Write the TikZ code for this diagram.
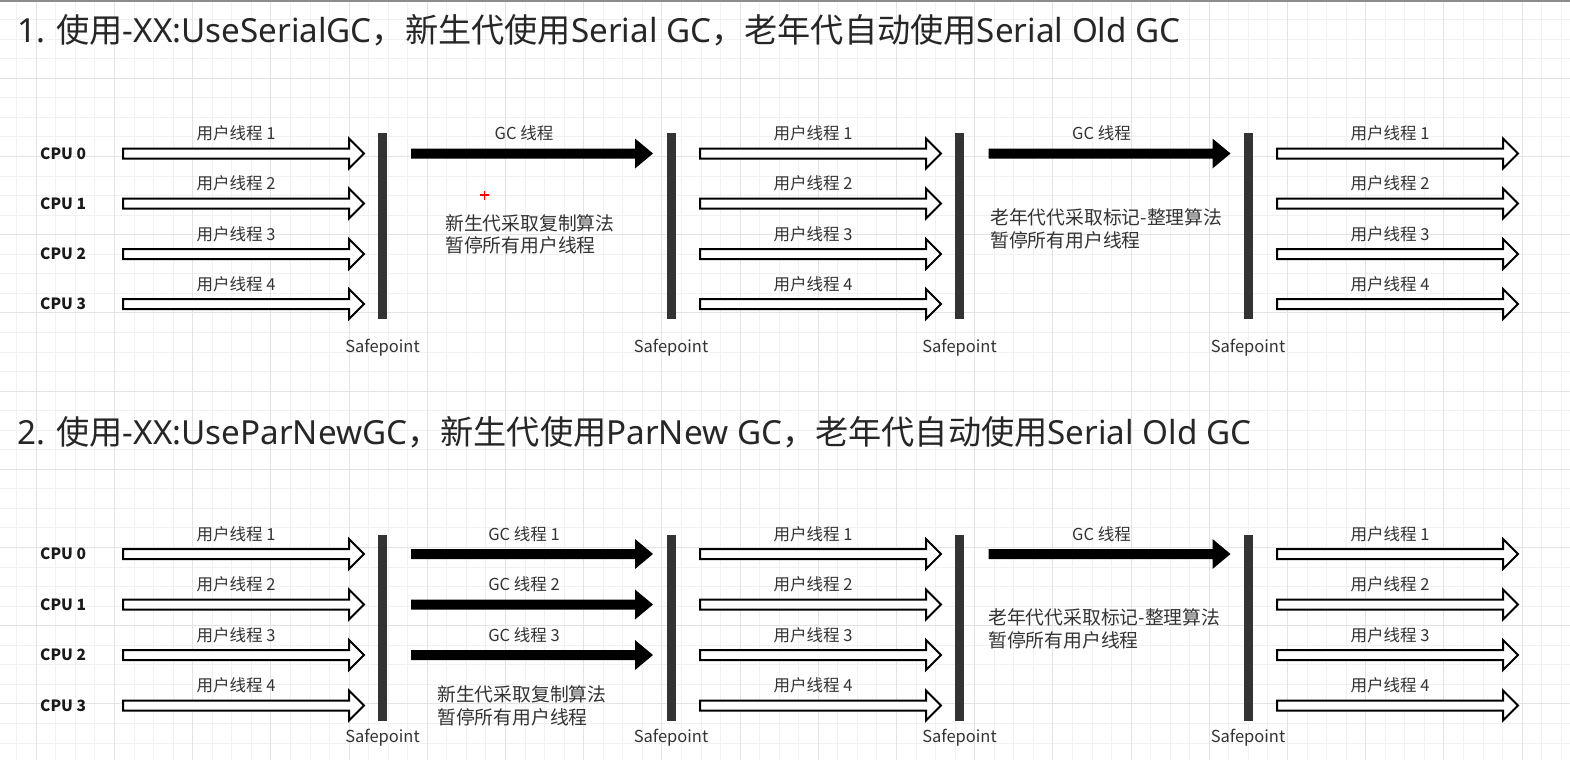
\documentclass[tikz,border=0pt]{standalone}
\usepackage{fontspec}
\setmainfont{Noto Sans CJK SC}
\newfontfamily\latin{Noto Sans}
\definecolor{ink}{HTML}{333333}
\definecolor{gridminor}{HTML}{F1F1F1}
\definecolor{gridmajor}{HTML}{E3E3E3}
\tikzset{
	pics/uarrow/.style = {code={
		\draw[line width=2, fill=white, miter limit=10] (0,-5) -- (226,-5) -- (226,-15) -- (241,0) -- (226,15) -- (226,5) -- (0,5) -- cycle;
		\node[lbl] (-l) at (113,-20) {#1};
	}},
	pics/gcarrow/.style = {code={
		\fill (0,-5) -- (224,-5) -- (224,-15) -- (242,0) -- (224,15) -- (224,5) -- (0,5) -- cycle;
		\node[lbl] (-l) at (113,-20) {#1};
	}}
}
\begin{document}
\begin{tikzpicture}[x=1pt, y=-1pt,
		cpu/.style	= {anchor=west, inner sep=0, text=black!90, font=\bfseries\fontsize{15.5}{18}\selectfont},
		lbl/.style	= {inner sep=0, text=ink, font=\fontsize{16.5}{18}\selectfont},
		sp/.style	= {inner sep=0, text=ink, font=\fontsize{16.5}{18}\selectfont},
		bar/.style	= {inner sep=0, fill=ink, minimum width=9, minimum height=186},
		note/.style	= {anchor=base west, align=left, inner sep=0, text=ink, font=\fontsize{18.8}{22.5}\selectfont},
		ttl/.style	= {anchor=west, inner sep=0, text=black!85, font=\fontsize{33.2}{36}\selectfont}
		]
		
		\useasboundingbox[fill=white] (0,0) rectangle (1570,760);
		% grid
		\foreach \k in {-2,...,78} \draw[gridminor] ({36+19.55*\k},0) -- ({36+19.55*\k},760);
		\foreach \k in {-4,...,35} \draw[gridminor] (0,{78+19.55*\k}) -- (1570,{78+19.55*\k});
		\foreach \k in {0,...,19} \draw[gridmajor] ({36+78.2*\k},0) -- ({36+78.2*\k},760);
		\foreach \k in {-1,...,8} \draw[gridmajor] (0,{78+78.2*\k}) -- (1570,{78+78.2*\k});
		\draw[black!45, line width=1.5] (0,1) -- (1570,1);
		
		% 1. serial
		\node[ttl]	(t1)	at	(17,30)	{{\latin 1. }使用{\latin -XX:UseSerialGC}，新生代使用{\latin Serial GC}，老年代自动使用{\latin Serial Old GC}};
		\foreach \r/\y/\n in {0/153.5/1, 1/203.5/2, 2/254/3, 3/304/4} {
			\node[cpu] (cpu1\r) at (40,\y) {CPU \r};
			\foreach \c/\x in {1/123, 3/700, 5/1277}
				\pic (u1\c\r) at (\x,\y) {uarrow=用户线程 \n};
		}
		\foreach \b/\x in {1/382.5, 2/671, 3/959.5, 4/1248} {
			\node[bar]	(bar1\b)	at	(\x,226)	{};
			\node[sp]	(sp1\b)		at	(\x,348)	{Safepoint};
		}
		\pic (g12) at (411,153.5) {gcarrow=GC 线程};
		\pic (g14) at (988.5,153.5) {gcarrow=GC 线程};
		\node[note]	(n12)	at	(445,252.5)	{新生代采取复制算法\\暂停所有用户线程};
		\node[note]	(n14)	at	(990,247)	{老年代代采取标记-整理算法\\暂停所有用户线程};
		\draw[red, line width=1.5] (480,195) -- (489,195) (484.5,190.5) -- (484.5,199.5);
		
		% 2. parnew
		\node[ttl]	(t2)	at	(17,432)	{{\latin 2. }使用{\latin -XX:UseParNewGC}，新生代使用{\latin ParNew GC}，老年代自动使用{\latin Serial Old GC}};
		\foreach \r/\y/\n in {0/554/1, 1/604.5/2, 2/655/3, 3/705.5/4} {
			\node[cpu] (cpu2\r) at (40,\y) {CPU \r};
			\foreach \c/\x in {1/123, 3/700, 5/1277}
				\pic (u2\c\r) at (\x,\y) {uarrow=用户线程 \n};
		}
		\foreach \b/\x in {1/382.5, 2/671, 3/959.5, 4/1248} {
			\node[bar]	(bar2\b)	at	(\x,627.5)	{};
			\node[sp]	(sp2\b)		at	(\x,738)	{Safepoint};
		}
		\foreach \r/\y/\n in {0/554/1, 1/604.5/2, 2/655/3}
			\pic (g22\r) at (411,\y) {gcarrow=GC 线程 \n};
		\pic (g24) at (988.5,554) {gcarrow=GC 线程};
		\node[note]	(n22)	at	(437,724)	{新生代采取复制算法\\暂停所有用户线程};
		\node[note]	(n24)	at	(988,647)	{老年代代采取标记-整理算法\\暂停所有用户线程};
\end{tikzpicture}
\end{document}
